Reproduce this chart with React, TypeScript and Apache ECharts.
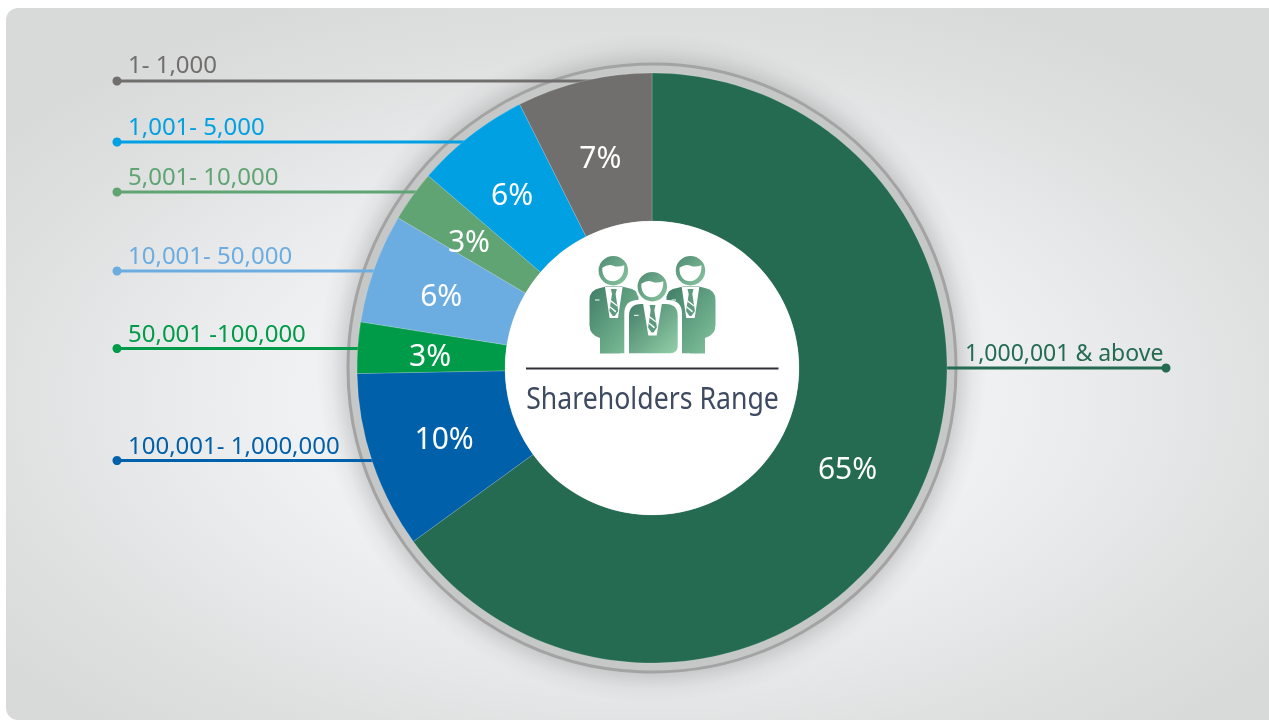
import React, { useEffect, useRef } from "react";
import * as echarts from "echarts";

const categories = ["1,000,001 & above", "100,001- 1,000,000", "50,001 -100,000", "10,001- 50,000", "5,001- 10,000", "1,001- 5,000", "1- 1,000"];
const values = [65, 9.7, 2.8, 6, 2.8, 6.3, 7.4];
const percentLabels = ["65%", "10%", "3%", "6%", "3%", "6%", "7%"];
const colors = ["#246b52", "#0060aa", "#009b48", "#6cade1", "#61a474", "#00a0e3", "#706f6e"];
const centerTitle = "Shareholders Range";

const CX = 652;
const CY = 368;
const R_OUT = 295;
const R_IN = 147;
const FONT = '"Noto Sans", sans-serif';

// leader y and label-text centre y, keyed by category index
const leaderY = [368, 460.5, 348.5, 271, 192, 142, 81];
const textY = [352, 444, 332, 254, 175.5, 125, 63];
const labelOffsets: number[][] = [[-4, -2], [4.5, -2], [1.5, 2], [0, 2], [-1, 3], [-2, 2], [0, 6]];

const bodyL = "M600 353.5 L600 338 Q589.5 335 589.5 325 L589.5 300 Q589.5 290 600 288 L606 286.5 L622 286.5 L632 289 Q637 291 638.5 295 L638.5 353.5 Z";
const bodyR = "M705 353.5 L705 338 Q715.5 335 715.5 325 L715.5 300 Q715.5 290 705 288 L699 286.5 L683 286.5 L673 289 Q668 291 666.5 295 L666.5 353.5 Z";
const bodyC = "M629 353.3 L629 316 Q629 304 641 304 L665.7 304 Q677.7 304 677.7 316 L677.7 346 Q677.7 353.3 670 353.3 Z";
const haloC = "M624.3 358 L624.3 314 Q624.3 300 638 300 L668 300 Q682 300 682 314 L682 358 Z";
const head = (x: number, y: number) => `M${x - 14.7} ${y} A14.7 14.7 0 1 1 ${x + 14.7} ${y} A14.7 14.7 0 1 1 ${x - 14.7} ${y} Z`;
const face = (x: number, y: number) => `M${x - 11} ${y - 3} Q${x - 5} ${y - 7} ${x} ${y - 5} Q${x + 5} ${y - 3} ${x + 11} ${y - 5.5} C${x + 12} ${y + 15.5} ${x - 12} ${y + 15.5} ${x - 11} ${y - 3} Z`;
const shirt = (x: number, top: number, bot: number, w: number) => `M${x - w} ${top} L${x - 4.2} ${bot} L${x + 4.2} ${bot} L${x + w} ${top} Z`;
const tie = (x: number, top: number, bot: number) => `M${x - 3} ${top} L${x + 3} ${top} L${x + 1.8} ${top + 5} L${x + 4.4} ${bot - 5} L${x + 1} ${bot} L${x - 1} ${bot} L${x - 4.4} ${bot - 5} L${x - 1.8} ${top + 5} Z`;
const stripes = (x: number, top: number) => `M${x - 3} ${top + 11} L${x + 3.4} ${top + 16} L${x + 3.4} ${top + 17.6} L${x - 3.4} ${top + 12.4} Z M${x - 4} ${top + 17} L${x + 2.4} ${top + 22} L${x + 1.6} ${top + 23.4} L${x - 4} ${top + 18.6} Z`;

const heads = [[613.3, 270.7], [690.5, 270.7], [652.3, 286.7]];
const shapes: Record<string, string> = {
  icBodyL: bodyL,
  icBodyR: bodyR,
  icBodyC: bodyC,
  icHalo: haloC,
  icHead0: head(heads[0][0], heads[0][1]),
  icHead1: head(heads[1][0], heads[1][1]),
  icHead2: head(heads[2][0], heads[2][1]),
  icFace0: face(heads[0][0], heads[0][1]),
  icFace1: face(heads[1][0], heads[1][1]),
  icFace2: face(heads[2][0], heads[2][1]),
  icShirt0: shirt(613.8, 287, 318, 8.8),
  icShirt1: shirt(690.5, 287, 318, 8.8),
  icShirt2: shirt(652.5, 303, 335.5, 9.5),
  icTie0: tie(613.8, 289, 316),
  icTie1: tie(690.5, 289, 316),
  icTie2: tie(652.5, 305, 332.5),
  icStr0: stripes(613.8, 289),
  icStr1: stripes(690.5, 289),
  icStr2: stripes(652.5, 305),
};
Object.keys(shapes).forEach((k) => {
  echarts.graphic.registerShape(k, echarts.graphic.extendPath(shapes[k], {}) as any);
});

const grad = (from: string, to: string) => new echarts.graphic.LinearGradient(0, 0, 1, 1, [
  { offset: 0, color: from },
  { offset: 1, color: to },
]);

export default function App() {
  const ref = useRef<HTMLDivElement>(null);
  useEffect(() => {
    const chart = echarts.init(ref.current!, undefined, { renderer: "svg" });

    const leaders: any[] = [];
    categories.forEach((name, i) => {
      const y = leaderY[i];
      const isRight = i === 0;
      const dy = y - CY;
      const reach = Math.sqrt((R_OUT - 6) * (R_OUT - 6) - dy * dy);
      const xDot = isRight ? 1166 : 117;
      const xEnd = isRight ? CX + reach : CX - reach;
      leaders.push({ type: "line", z: 1, shape: { x1: xDot, y1: y, x2: xEnd, y2: y }, style: { stroke: colors[i], lineWidth: 3 } });
      leaders.push({ type: "circle", z: 1, shape: { cx: xDot, cy: y, r: 4.5 }, style: { fill: colors[i] } });
      leaders.push({
        type: "text", z: 3,
        x: isRight ? 965 : 128, y: textY[i],
        style: { text: name, fill: colors[i], font: `${isRight ? 23 : 24}px ${FONT}`, textAlign: "left", textVerticalAlign: "middle" },
      });
    });

    const icon = (t: string, style: any) => ({ type: t, z: 5, style });
    const g0 = () => grad("#3f7d66", "#84c49d");
    const gh = () => grad("#4f8a73", "#8ac79f");

    chart.setOption({
      animation: false,
      graphic: [
        {
          type: "rect", z: -5, shape: { x: 6, y: 8, width: 1290, height: 712, r: 12 },
          style: {
            fill: new echarts.graphic.RadialGradient(0.49, 0.55, 0.62, [
              { offset: 0, color: "#f5f6f8" },
              { offset: 0.45, color: "#eff0f2" },
              { offset: 0.8, color: "#dfe1e1" },
              { offset: 1, color: "#d8dad9" },
            ]),
          },
        },
        {
          type: "circle", z: -4, shape: { cx: CX, cy: CY, r: 335 },
          style: {
            fill: new echarts.graphic.RadialGradient(0.5, 0.5, 0.5, [
              { offset: 0, color: "rgba(110,110,110,0.28)" },
              { offset: 0.905, color: "rgba(110,110,110,0.28)" },
              { offset: 0.96, color: "rgba(130,130,130,0.07)" },
              { offset: 1, color: "rgba(130,130,130,0)" },
            ]),
          },
        },
        { type: "circle", z: -3, shape: { cx: CX, cy: CY, r: 304 }, style: { fill: "#c6c7c7", stroke: "#a3a3a3", lineWidth: 3 } },
        ...leaders,
        { type: "circle", z: 3, shape: { cx: CX, cy: CY, r: R_IN }, style: { fill: "#ffffff" } },
        icon("icBodyL", { fill: g0() }),
        icon("icBodyR", { fill: g0() }),
        icon("icShirt0", { fill: "#ffffff" }),
        icon("icShirt1", { fill: "#ffffff" }),
        icon("icTie0", { fill: "#5d9a80" }),
        icon("icTie1", { fill: "#5d9a80" }),
        icon("icStr0", { fill: "#ffffff" }),
        icon("icStr1", { fill: "#ffffff" }),
        { type: "line", z: 5, shape: { x1: 595, y1: 300, x2: 599.5, y2: 300 }, style: { stroke: "#ffffff", lineWidth: 1 } },
        { type: "line", z: 5, shape: { x1: 671.7, y1: 300, x2: 676, y2: 300 }, style: { stroke: "#ffffff", lineWidth: 1 } },
        icon("icHead0", { fill: gh() }),
        icon("icHead1", { fill: gh() }),
        icon("icFace0", { fill: "#ffffff" }),
        icon("icFace1", { fill: "#ffffff" }),
        { type: "circle", z: 6, shape: { cx: heads[2][0], cy: heads[2][1], r: 17 }, style: { fill: "#ffffff" } },
        { ...icon("icHalo", { fill: "#ffffff" }), z: 6 },
        { type: "rect", z: 6, shape: { x: 620, y: 353.5, width: 70, height: 6 }, style: { fill: "#ffffff" } },
        { ...icon("icBodyC", { fill: grad("#447f69", "#93d0a8") }), z: 7 },
        { ...icon("icShirt2", { fill: "#ffffff" }), z: 7 },
        { ...icon("icTie2", { fill: "#5d9a80" }), z: 7 },
        { ...icon("icStr2", { fill: "#ffffff" }), z: 7 },
        { type: "line", z: 7, shape: { x1: 634, y1: 315.3, x2: 638.7, y2: 315.3 }, style: { stroke: "#ffffff", lineWidth: 1 } },
        { ...icon("icHead2", { fill: gh() }), z: 7 },
        { ...icon("icFace2", { fill: "#ffffff" }), z: 7 },
        { type: "line", z: 7, shape: { x1: 526, y1: 368.5, x2: 778.5, y2: 368.5 }, style: { stroke: "#2f3038", lineWidth: 2 } },
        {
          type: "text", z: 7, x: CX + 0.5, y: 397, scaleX: 0.86,
          style: { text: centerTitle, fill: "#3d4a60", font: `31px ${FONT}`, textAlign: "center", textVerticalAlign: "middle" },
        },
      ],
      series: [
        {
          type: "pie",
          z: 2,
          center: [CX, CY],
          radius: [R_IN, R_OUT],
          startAngle: 90,
          clockwise: true,
          silent: true,
          avoidLabelOverlap: false,
          labelLine: { show: false },
          itemStyle: { borderColor: "rgba(255,255,255,0.35)", borderWidth: 0.5 },
          label: { show: true, position: "inside", color: "#ffffff", fontFamily: "Noto Sans", fontSize: 30 },
          data: categories.map((name, i) => ({
            name,
            value: values[i],
            itemStyle: { color: colors[i] },
            label: { formatter: percentLabels[i], offset: labelOffsets[i] },
          })),
        },
      ],
    });
    return () => chart.dispose();
  }, []);
  return <div ref={ref} style={{ position: "fixed", left: 0, top: 0, width: 1269, height: 721 }} />;
}
